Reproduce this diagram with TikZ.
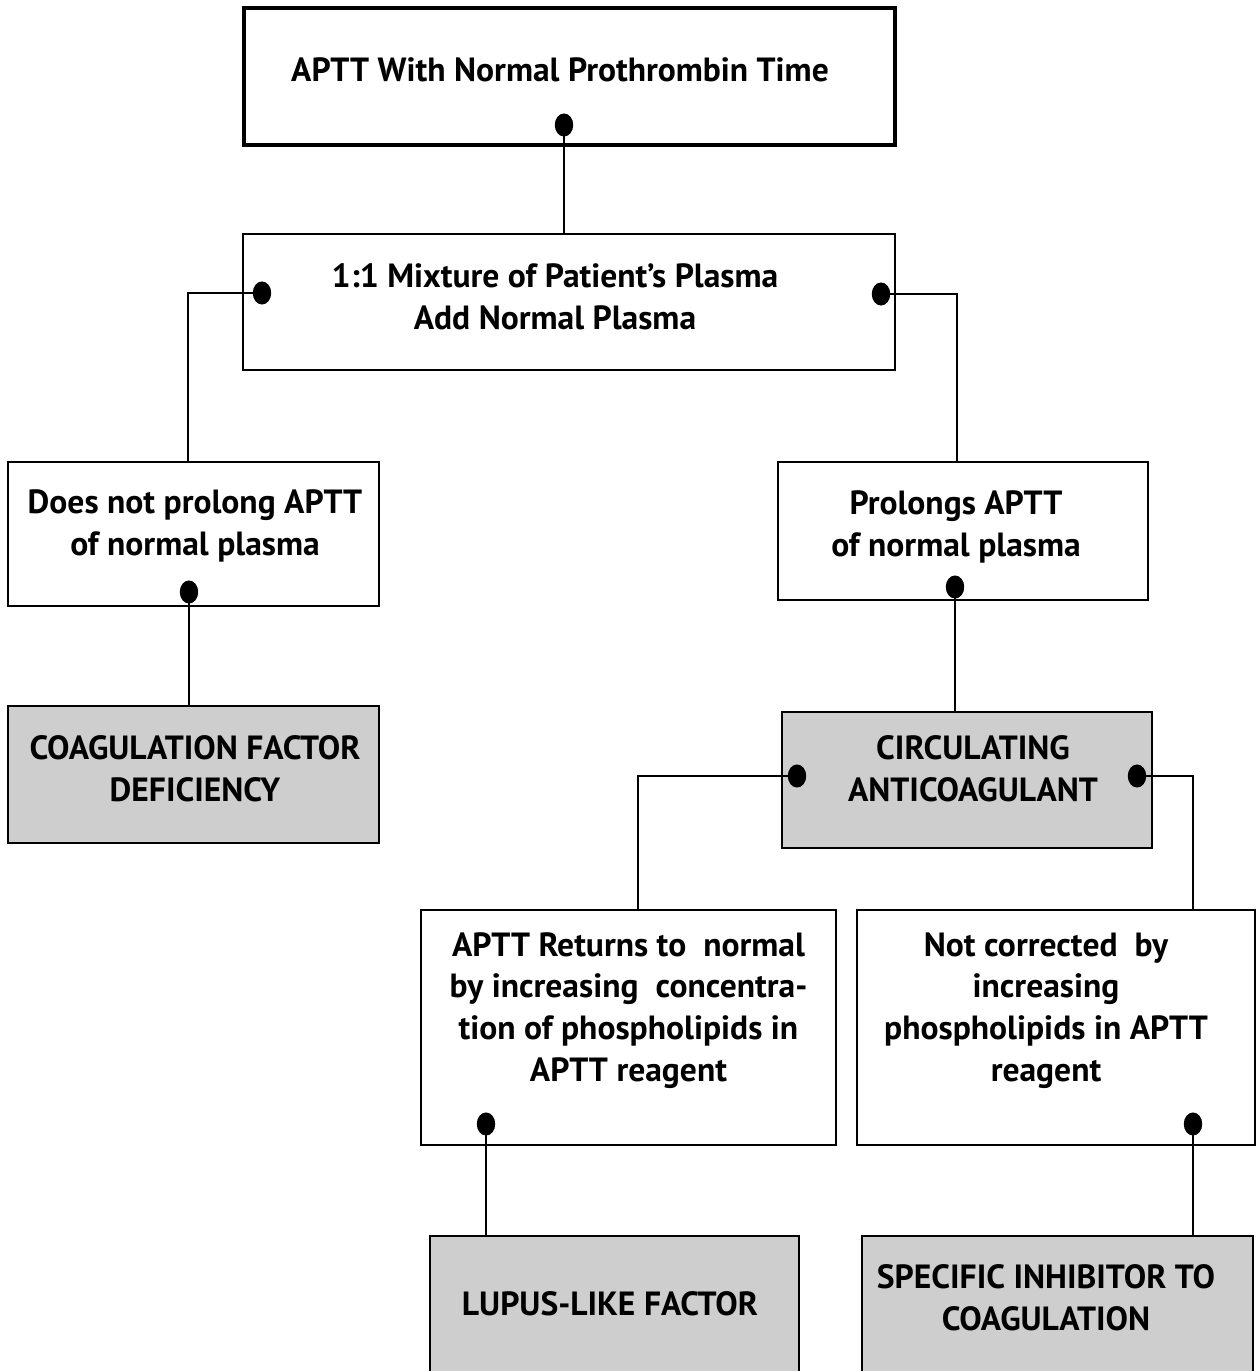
\documentclass[tikz,border=0pt]{standalone}
\usepackage{fontspec}
\setmainfont{PT Sans}
\usetikzlibrary{calc}
\definecolor{boxgray}{RGB}{206,206,206}
\tikzset{
  box/.style={draw=black, line width=1.3pt, fill=white, inner sep=0pt},
  topbox/.style={box, line width=2.4pt},
  graybox/.style={box, fill=boxgray},
  txt/.style={font=\fontsize{19.1}{23.8}\selectfont\bfseries, align=center, inner sep=0pt},
  dot/.style={ellipse-ish},
  ellipse-ish/.style={fill=black, circle, inner sep=0pt, minimum size=10.5pt, yscale=1.25},
  conn/.style={line width=0.9pt}
}
\begin{document}
\begin{tikzpicture}[x=0.02cm, y=-0.02cm]
\useasboundingbox (0,0) rectangle (1259,1371);
\clip (0,0) rectangle (1259,1371);
% boxes
\node[topbox, minimum width=651*0.02cm, minimum height=137*0.02cm] (b1) at (569.5,76.5) {};
\node[box, minimum width=652*0.02cm, minimum height=136*0.02cm] (b2) at (569,302) {};
\node[box, minimum width=371*0.02cm, minimum height=144*0.02cm] (b3) at (193.5,534) {};
\node[box, minimum width=370*0.02cm, minimum height=138*0.02cm] (b4) at (963,531) {};
\node[graybox, minimum width=371*0.02cm, minimum height=137*0.02cm] (b5) at (193.5,774.5) {};
\node[graybox, minimum width=370*0.02cm, minimum height=136*0.02cm] (b6) at (967,780) {};
\node[box, minimum width=415*0.02cm, minimum height=235*0.02cm] (b7) at (628.5,1027.5) {};
\node[box, minimum width=398*0.02cm, minimum height=235*0.02cm] (b8) at (1056,1027.5) {};
\node[graybox, minimum width=369*0.02cm, minimum height=200*0.02cm] (b9) at (614.5,1336) {};
\node[graybox, minimum width=391*0.02cm, minimum height=200*0.02cm] (b10) at (1057.5,1336) {};
% texts
\node[txt] (t1) at (560,70) {APTT With Normal Prothrombin Time};
\node[txt] (t2) at (555,296.5) {1:1 Mixture of Patient’s Plasma\\Add Normal Plasma};
\node[txt] (t3) at (195,526) {Does not prolong APTT\\of normal plasma};
\node[txt] (t4) at (956,527) {Prolongs APTT\\of normal plasma};
\node[txt] (t5) at (195,769) {COAGULATION FACTOR\\DEFICIENCY};
\node[txt] (t6) at (973,769) {CIRCULATING\\ANTICOAGULANT};
\node[txt] (t7) at (628.5,1010.5) {APTT Returns to\ \ normal\\by increasing\ \ concentra-\\tion of phospholipids in\\APTT reagent};
\node[txt] (t8) at (1046,1010.5) {Not corrected\ \ by\\increasing\\phospholipids in APTT\\reagent};
\node[txt] (t9) at (610,1304) {LUPUS-LIKE FACTOR};
\node[txt] (t10) at (1046,1297.5) {SPECIFIC INHIBITOR TO\\COAGULATION};
% dots
\node[dot] (d1) at (564,125) {};
\node[dot] (d2l) at (262,293) {};
\node[dot] (d2r) at (881,294) {};
\node[dot] (d3) at (189,592) {};
\node[dot] (d4) at (955,587) {};
\node[dot] (d6l) at (797,776) {};
\node[dot] (d6r) at (1137,776) {};
\node[dot] (d7) at (486,1124) {};
\node[dot] (d8) at (1193,1124) {};
% connectors
\draw[conn] (d1.center) -- (d1.center |- b2.north);
\draw[conn] (d2l.center) -| ($(b3.north)+(-5.5,0)$);
\draw[conn] (d2r.center) -| ($(b4.north)+(-6,0)$);
\draw[conn] (d3.center) -- (d3.center |- b5.north);
\draw[conn] (d4.center) -- (d4.center |- b6.north);
\draw[conn] (d6l.center) -| ($(b7.north)+(9.5,0)$);
\draw[conn] (d6r.center) -| ($(b8.north)+(137,0)$);
\draw[conn] (d7.center) -- (d7.center |- b9.north);
\draw[conn] (d8.center) -- (d8.center |- b10.north);
\end{tikzpicture}
\end{document}
